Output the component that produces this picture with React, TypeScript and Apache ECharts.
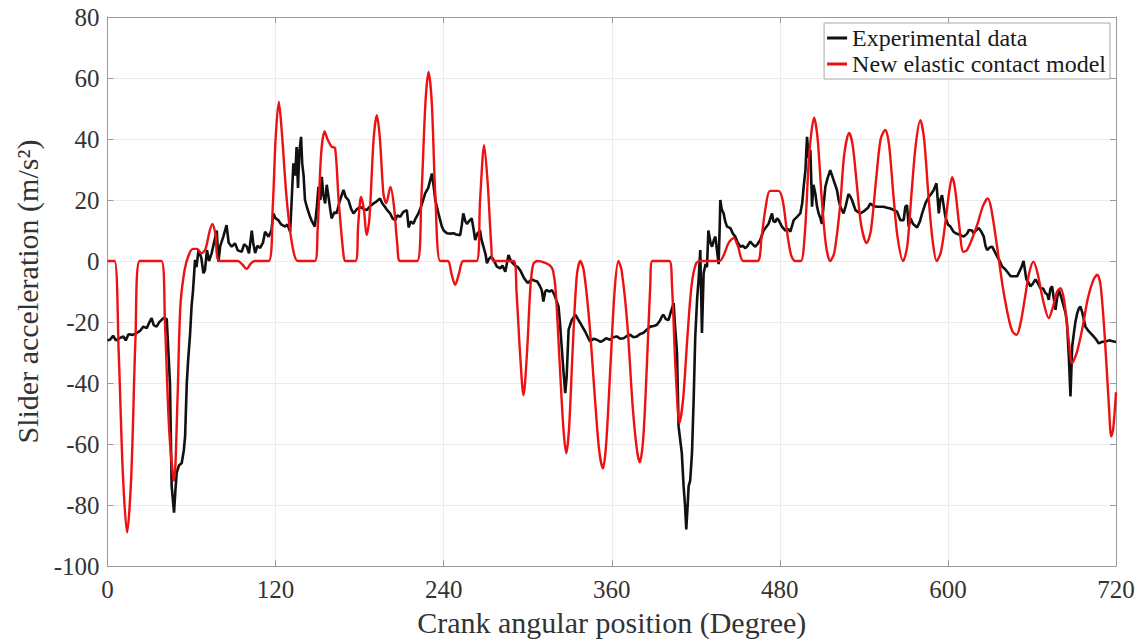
import React, { useEffect, useRef } from "react";
import * as echarts from "echarts";

const xTicks = [0, 120, 240, 360, 480, 600, 720];
const yTicks = [-100, -80, -60, -40, -20, 0, 20, 40, 60, 80];
const seriesNames = ["Experimental data", "New elastic contact model"];

const experimental: number[][] = [
  [0,-26],[1.8,-25.8],[4,-24.5],[6,-26],[9,-25.2],[11.3,-24.7],[13,-26],[15,-24],[18,-24.2],[20,-23.8],[23,-23],[25.6,-21.5],[28,-22],[30,-20],[31.5,-18.7],[33,-21],[35,-21.5],[37,-20],[39.9,-18.7],[42.3,-19],[43.5,-30],[44.6,-40],[45.8,-73.8],[47.5,-82.5],[48.5,-75],[49.4,-69.4],[51,-67],[53,-66.2],[54.5,-62],[55.4,-57.5],[56.6,-40],[57.5,-33],[59,-23.6],[60,-14.9],[61,-10],[62.5,0.4],[63.5,-2],[65,3.6],[67,1],[68.5,-4],[69.6,-3],[71,3.6],[72.5,0],[74.4,2.6],[76,6],[78,10],[79.2,-0.2],[80.5,5],[82.7,8],[85,11.8],[86.5,6],[88.7,4.7],[91,5.8],[93,3.5],[95.8,3],[97.5,5.5],[99.4,4.8],[101,2.5],[103,10],[104,6],[105.4,2.6],[107,5],[109,4.3],[111,6],[112.5,9.6],[115,8],[117,10],[118.4,15.6],[120,14],[122,13.4],[124,12],[126.8,11.3],[128.5,12],[130.4,9.6],[131.5,20],[132.7,32],[134,28],[135,37.4],[136,24],[137,36],[138.2,40.7],[139,32],[140,28],[141,20],[142.3,17.8],[144.6,14.5],[146,13],[148,11.3],[149.5,18],[150.6,24.3],[152,20],[153,27.6],[154,22],[155.4,18.9],[156.5,25],[157.5,22],[159,17],[160,14],[162,16],[163.5,15.6],[166,20],[168.5,23.3],[170,21],[172,20],[174,17],[175.6,15.6],[178,17],[180.4,17.8],[183,17],[185.1,16.7],[187.5,18],[189.9,18.9],[192,19.5],[194.6,20.5],[196,19],[198,17.8],[200,16.5],[201.8,15.6],[203.5,14],[205.4,13.4],[207,15],[209,14.5],[211,16],[213.7,16.7],[215,11],[216.5,13],[218.4,12.2],[220,14],[222,15.6],[224,18],[226.8,22.2],[229,24],[231.6,28.7],[233,24],[234,20],[236.3,15.6],[238.7,11.3],[240,10],[242.3,9.1],[245,9],[247,9.1],[249,8.7],[251.8,8.5],[253,12],[254,15.6],[255.5,13],[256.6,12.2],[258,13],[260,14],[261.5,10],[262.5,6.9],[264,9],[266,10],[267,7],[268.4,4.7],[270,2],[270.9,-0.7],[272,0.5],[274,1.5],[276,0],[278,-1.8],[280.4,-2.4],[282,-1.5],[284,-3.5],[286.3,2],[288,0],[291,-1.5],[293,-2],[294.6,-3],[297.4,-5.6],[300,-7.2],[303,-6],[305,-6.5],[306.6,-6.6],[308.5,-8],[310,-9.5],[311.2,-13.3],[312.5,-10],[313.6,-9.5],[315.5,-10],[317.3,-9.5],[319,-11],[320.5,-13],[322,-14.9],[323,-20],[324.4,-29],[325.5,-36],[326.8,-43.3],[327.8,-38],[329.2,-22.5],[331.5,-19.3],[334,-17.6],[335.8,-19],[337.5,-20.3],[339,-21.5],[341,-23.1],[343,-25],[344.6,-26.4],[347,-25.5],[349.4,-25.8],[352,-26.5],[354,-26],[356,-25.3],[358.8,-25.8],[361,-25],[363.7,-24.7],[366,-25.5],[368.5,-25.3],[371,-24.5],[373.2,-24.2],[375.5,-25],[378,-24.7],[380,-24],[382.7,-23.5],[385,-22.5],[387.5,-21.5],[390,-21.3],[392,-21],[394.5,-19.5],[396,-18],[397,-17.6],[398.5,-19],[400.6,-19.3],[402,-17],[404.2,-13.8],[405,-20],[406.6,-30.2],[407.7,-54.2],[410,-62.9],[411.3,-73.8],[412.3,-80],[413.2,-88],[414.2,-80],[414.9,-73.8],[416,-72],[417.3,-62.9],[418.5,-45],[419.6,-25],[421,-12],[422,-6.2],[423.2,3.6],[424.4,-23.6],[425.6,-4],[427,-1],[428,-2],[429,10],[430.5,6],[431.6,4.7],[433,7],[434,8],[435,4],[436.3,-1],[437,10],[437.5,20],[438.5,17],[439.9,15.6],[441,13],[442.3,11.3],[444.7,10.8],[446.5,9],[448.2,8],[450,6],[451.8,4.7],[453.5,5],[455.4,4.2],[457,5],[458.9,6.4],[460.5,5.5],[462.5,4.7],[464,5.5],[466,6.9],[468.4,10],[470,11],[472,12.2],[473.2,14],[474.4,15.6],[475.5,13],[476.8,12.8],[478,14],[479.2,13.4],[481.5,11.3],[484,10],[486,10.5],[487.5,9.6],[489.9,13.4],[492.3,14.5],[494.6,15.6],[496,19],[497,24.3],[498.3,30],[499.4,40.7],[500.6,33.8],[501.8,36.4],[503,17.8],[504,25],[505.4,22],[506.5,18],[507.7,15.6],[509,14],[510,12.2],[511.2,18],[512.5,24.3],[514,27],[516,29.8],[518.4,26.5],[520.8,23.3],[522,20],[523.2,17.8],[525.5,15.6],[527,18],[529,22],[530.5,21],[531.5,20],[534,16.7],[536,16],[537.5,15.6],[539,16],[541,16.7],[543,17.5],[544.6,18.9],[547,18],[549.4,17.8],[552,17.8],[554,17.8],[556.5,17.5],[558.9,17.2],[561,16.8],[563.7,16.2],[566,13.4],[568.4,13.4],[569.6,17.8],[570.8,18.3],[572,11.3],[573.3,14],[575,12.2],[578,11],[580,13],[581.6,15.6],[584,19],[586.3,21],[588,22],[589.9,23.3],[591.8,25.5],[593.5,15.6],[594.5,20],[595.8,21.6],[597,18],[598.2,14.5],[600,12],[601.8,11.3],[604,9.6],[606,9],[608.9,8.5],[611.3,8],[613.7,9],[615,10.2],[617.3,10],[618.4,9.1],[620,10],[622,10.8],[624,9.5],[625.6,8],[626.8,5],[628,3.6],[630,4.5],[631.6,4.7],[633.5,3],[635.1,1.5],[637,0],[638.7,-1.8],[640.5,-2.5],[642.3,-3.5],[644.8,-5],[647,-5],[649.4,-5],[650.6,-3.9],[652.5,-2],[654,0],[656,-6],[657.5,-7],[658.9,-8.3],[660.5,-7.5],[662.5,-6],[664.5,-7.5],[666,-8.9],[668,-9],[669.6,-10.5],[671,-11],[672,-12.7],[673.2,-9],[674.4,-8.3],[675.5,-12],[676.8,-16],[678,-12],[679.2,-9.4],[681,-12],[682.7,-14.9],[684,-17],[685,-20.3],[686.3,-31.3],[687.5,-44.4],[688.7,-28.1],[689.9,-23.7],[691,-20],[692.3,-17.1],[693.5,-15.5],[694.6,-14.9],[696,-17],[698.2,-21.5],[700.5,-23],[703,-24.2],[705.5,-25.5],[707.7,-27],[710,-26.5],[712.5,-26.4],[715,-26],[718.5,-26.4],[720,-26.5]
];

const elasticModel: number[][] = [
  [0,0],[5,0],[8,-30],[11,-70],[14,-89],[17,-70],[20,-25],[23,0],[38.5,0],[41,-20],[44,-55],[47.5,-72],[50,-45],[52,-15],[55,-3],[58,2],[61,4],[64,4],[67,2.5],[70,4],[73,10],[75,12.2],[77,9],[80,0],[93,0],[96,-1],[99.4,-2.6],[102,-1],[105,0],[115,0],[118,18],[120,40],[122.3,52.2],[124.5,42],[128,20],[132,5],[136,0],[148,0],[150,10],[152.5,35],[155,42.5],[157,40],[160,37.5],[162.5,37],[165,20],[168.5,2],[170,0],[177,0],[179,12],[181,21],[183,17],[185,8.5],[187,14],[190,40],[192.3,47.8],[194.5,40],[197,22],[199,19],[202,24.3],[204.5,18],[207,5],[209,0],[221,0],[224,20],[227,52],[229.2,62],[231.5,52],[234,22],[237.5,0],[243,0],[245.5,-4],[248.2,-7.8],[251,-4],[254,0],[263.5,0],[266,20],[268.9,38],[271.5,25],[274,5],[275.5,0],[290,0],[292,-10],[294.5,-30],[297,-44],[299.5,-30],[302,-8],[304,-1],[307,0],[312,-0.5],[316,-1.5],[318,-3],[320,-10],[323,-35],[325.5,-55],[327.5,-63],[329.5,-55],[332,-30],[335,-5],[337.5,0],[340,-3],[344,-20],[348,-45],[351,-62],[353.7,-68],[356,-60],[359,-35],[362,-10],[364.7,0],[367,-3],[371,-20],[375,-48],[378,-62],[380,-66],[382.5,-58],[385,-35],[387.5,-8],[389,0],[401,0],[403,-8],[405.5,-35],[408.4,-53],[411,-45],[414,-25],[417,-8],[420,-1],[423,0],[437,0],[440,2],[443.5,6],[447,7.5],[450,5],[454,0],[464,0],[467,8],[470,18],[473,23],[479,23],[482,20],[485,10],[488,2],[491,0],[495,0],[498,10],[501,35],[504.5,47],[507,40],[510,20],[513,5],[516,0],[519,3],[523,18],[526,35],[529.5,42],[532,38],[535,25],[538,12],[542,5.9],[545,10],[549,28],[552,40],[555.3,43],[558,38],[561,22],[564,8],[568,0],[571,5],[574,22],[577,38],[580.3,46.2],[583,40],[586,22],[589,7],[592,0],[595,3],[598,12],[601,23],[603,27.5],[605,24],[608,12],[611,3],[613.5,3.5],[617,7],[621,12],[625,18],[628.5,20.5],[631,17],[635,5],[639,-8],[643,-18],[646,-23],[649,-24.2],[652,-20],[655,-12],[658,-4],[661,-0.2],[664,-4],[668,-13],[672,-18.7],[675,-15],[678,-10],[680.4,-8.9],[683,-13],[686,-25],[688.7,-33.4],[692,-30],[696,-22],[700,-12],[704,-6],[706.6,-4.5],[709,-8],[712,-25],[715,-48],[716.6,-57.5],[718,-55],[720,-43]
];

const FONT = "'Liberation Serif', 'Times New Roman', serif";

export default function App() {
  const ref = useRef<HTMLDivElement>(null);
  useEffect(() => {
    if (!ref.current) return;
    const chart = echarts.init(ref.current, null, { renderer: "svg" });
    const axisGrey = "#9a9a9a";
    const labelColor = "#333333";
    const baseX = {
      type: "value",
      min: xTicks[0],
      max: xTicks[xTicks.length - 1],
      interval: xTicks[1] - xTicks[0],
    };
    const baseY = {
      type: "value",
      min: yTicks[0],
      max: yTicks[yTicks.length - 1],
      interval: yTicks[1] - yTicks[0],
    };
    const line = { show: true, onZero: false, lineStyle: { color: axisGrey, width: 1 } };
    const tick = { show: true, inside: true, length: 6, lineStyle: { color: axisGrey } };
    chart.setOption({
      animation: false,
      backgroundColor: "#ffffff",
      grid: { left: 107.5, right: 25, top: 17, bottom: 75, containLabel: false },
      legend: {
        orient: "vertical",
        right: 31,
        top: 23,
        backgroundColor: "#ffffff",
        borderColor: "#a8a8a8",
        borderWidth: 1,
        borderRadius: 0,
        padding: [3, 4, 3, 3],
        itemGap: 2,
        itemWidth: 20,
        itemHeight: 3,
        icon: "rect",
        data: seriesNames,
        textStyle: { fontFamily: FONT, fontSize: 24, color: "#1a1a1a" },
      },
      xAxis: [
        {
          ...baseX,
          position: "bottom",
          name: "Crank angular position (Degree)",
          nameLocation: "middle",
          nameGap: 40,
          nameTextStyle: { fontFamily: FONT, fontSize: 30, color: labelColor },
          axisLine: line,
          axisTick: tick,
          axisLabel: { fontFamily: FONT, fontSize: 25, color: labelColor, margin: 11 },
          splitLine: { show: true, lineStyle: { color: "#ececec", width: 1 } },
        },
        {
          ...baseX,
          position: "top",
          axisLine: line,
          axisTick: tick,
          axisLabel: { show: false },
          splitLine: { show: false },
        },
      ],
      yAxis: [
        {
          ...baseY,
          position: "left",
          name: "Slider acceleration (m/s²)",
          nameLocation: "middle",
          nameGap: 62,
          nameTextStyle: { fontFamily: FONT, fontSize: 30, color: labelColor },
          axisLine: line,
          axisTick: tick,
          axisLabel: { fontFamily: FONT, fontSize: 25, color: labelColor, margin: 8 },
          splitLine: { show: true, lineStyle: { color: "#ececec", width: 1 } },
        },
        {
          ...baseY,
          position: "right",
          axisLine: line,
          axisTick: tick,
          axisLabel: { show: false },
          splitLine: { show: false },
        },
      ],
      series: [
        {
          name: seriesNames[0],
          type: "line",
          xAxisIndex: 0,
          yAxisIndex: 0,
          data: experimental,
          showSymbol: false,
          symbol: "none",
          z: 3,
          lineStyle: { color: "#111111", width: 2.6 },
          itemStyle: { color: "#111111" },
        },
        {
          name: seriesNames[1],
          type: "line",
          xAxisIndex: 0,
          yAxisIndex: 0,
          data: elasticModel,
          showSymbol: false,
          symbol: "none",
          smooth: 0.3,
          z: 4,
          lineStyle: { color: "#ee1111", width: 2.4 },
          itemStyle: { color: "#ee1111" },
        },
      ],
    });
    return () => chart.dispose();
  }, []);
  return (
    <div
      ref={ref}
      style={{ position: "fixed", left: 0, top: 0, width: 1141, height: 642, background: "#fff" }}
    />
  );
}
